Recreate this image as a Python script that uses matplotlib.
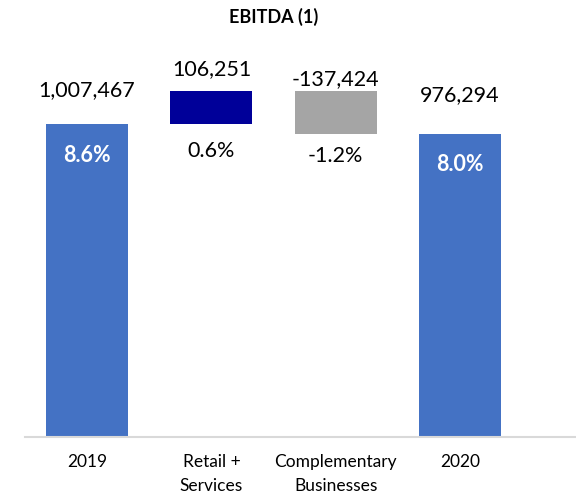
import matplotlib
matplotlib.use("Agg")
import matplotlib.pyplot as plt

categories = ["2019", "Retail +\nServices", "Complementary\nBusinesses", "2020"]
values = [1007467, 106251, -137424, 976294]
value_labels = ["1,007,467", "106,251", "-137,424", "976,294"]
pct_labels = ["8.6%", "0.6%", "-1.2%", "8.0%"]
kinds = ["total", "delta", "delta", "total"]

colors = ["#4472C4", "#000099", "#A5A5A5", "#4472C4"]
pct_colors = ["white", "black", "black", "white"]
pct_bold = [True, False, False, True]
val_off_px = [34, 22, 12, 39]     # label centre above bar top
pct_off_px = [31, 27, 22, 31]     # percent centre below bar top/bottom

plt.rcParams['font.family'] = ['Lato', 'DejaVu Sans']

fig = plt.figure(figsize=(5.76, 5.01), dpi=100)
W, H = 576, 501
ax = fig.add_axes([25 / W, (H - 437) / H, (576 - 25) / W, (437 - 40) / H])

px_per_unit = 313 / 1007467
ymax = 397 / px_per_unit
slot = 124.3
xmax = (576 - 25) / slot - 0.5

bottoms, tops = [], []
running = 0
for v, k in zip(values, kinds):
    if k == "total":
        b, t = 0, v
        running = v
    else:
        b, t = (running, running + v) if v >= 0 else (running + v, running)
        running += v
    bottoms.append(b)
    tops.append(t)

xs = list(range(len(categories)))
heights = [t - b for b, t in zip(bottoms, tops)]
ax.bar(xs, heights, bottom=bottoms, width=82 / slot, color=colors, zorder=2)

for i in xs:
    ax.annotate(value_labels[i], (i, tops[i]), xytext=(0, val_off_px[i] * 0.72),
                textcoords="offset points", ha="center", va="center",
                fontsize=15.5, color="black")
    ref = tops[i] if kinds[i] == "total" else bottoms[i]
    ax.annotate(pct_labels[i], (i, ref), xytext=(0, -pct_off_px[i] * 0.72),
                textcoords="offset points", ha="center", va="center",
                fontsize=15.5, color=pct_colors[i],
                fontweight="bold" if pct_bold[i] else "normal")

ax.set_xlim(-0.5, xmax)
ax.set_ylim(0, ymax)
ax.set_yticks([])
ax.set_xticks(xs)
ax.set_xticklabels(categories, fontsize=12.5, linespacing=1.65)
ax.tick_params(axis="x", length=0, pad=12)
for s in ["top", "right", "left"]:
    ax.spines[s].set_visible(False)
ax.spines["bottom"].set_color("#D9D9D9")
ax.spines["bottom"].set_linewidth(1.5)

fig.text(274 / W, 1 - 17 / H, "EBITDA (1)", ha="center", va="center",
         fontsize=13, fontweight="bold")

fig.savefig("out.png", dpi=100)
